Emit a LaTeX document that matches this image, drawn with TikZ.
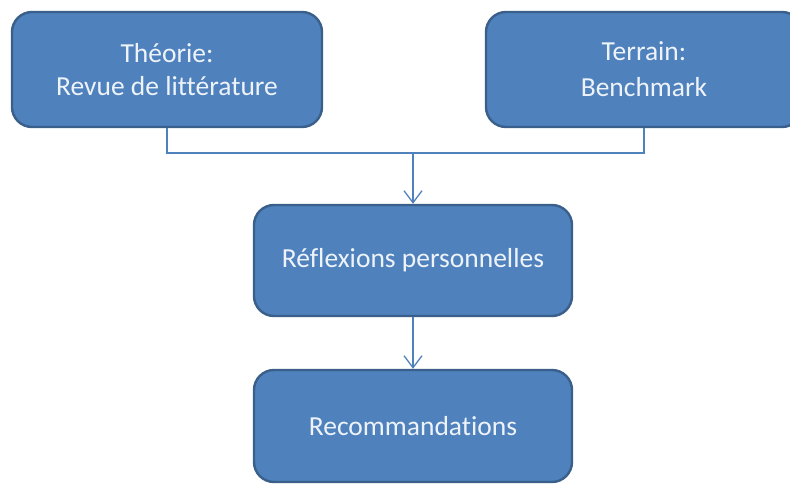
\documentclass[tikz,border=0pt]{standalone}
\usepackage{fontspec}
\setmainfont{Carlito}[Ligatures=NoCommon]
\usetikzlibrary{arrows.meta,positioning}
\definecolor{boxfill}{HTML}{4F81BD}
\definecolor{boxline}{HTML}{3A5F8B}
\definecolor{boxtext}{HTML}{EEF3FA}
\begin{document}
\begin{tikzpicture}[x=1pt,y=-1pt,>={Straight Barb[length=12pt,width=18pt,line width=1.3pt]},
    etape/.style={draw=boxline,line width=2.4pt,fill=boxfill,rounded corners=20pt,
        text=boxtext,align=center,inner sep=0pt,font=\fontsize{27.5}{33}\selectfont},
    lien/.style={draw=boxfill,line width=1.4pt}]

        \useasboundingbox (0,0) rectangle (790,485);

        \node[etape,minimum width=310pt,minimum height=115pt] (theorie) at (167,69.5) {Théorie:\\Revue de littérature};
        \node[etape,minimum width=316pt,minimum height=115pt] (terrain) at (644,69.5) {Terrain:\\[3pt]Benchmark};
        \node[etape,minimum width=318pt,minimum height=111pt] (reflexion) at (413,260.5) {Réflexions personnelles};
        \node[etape,minimum width=318pt,minimum height=112pt] (recom) at (413,426) {Recommandations};

        \coordinate (jonction) at (reflexion.north |- 0,153);

        \draw[lien] (theorie.south) |- (jonction) -| (terrain.south);
        \draw[lien,->] (jonction) -- (reflexion.north);
        \draw[lien,->] (reflexion.south) -- (recom.north);

\end{tikzpicture}
\end{document}
